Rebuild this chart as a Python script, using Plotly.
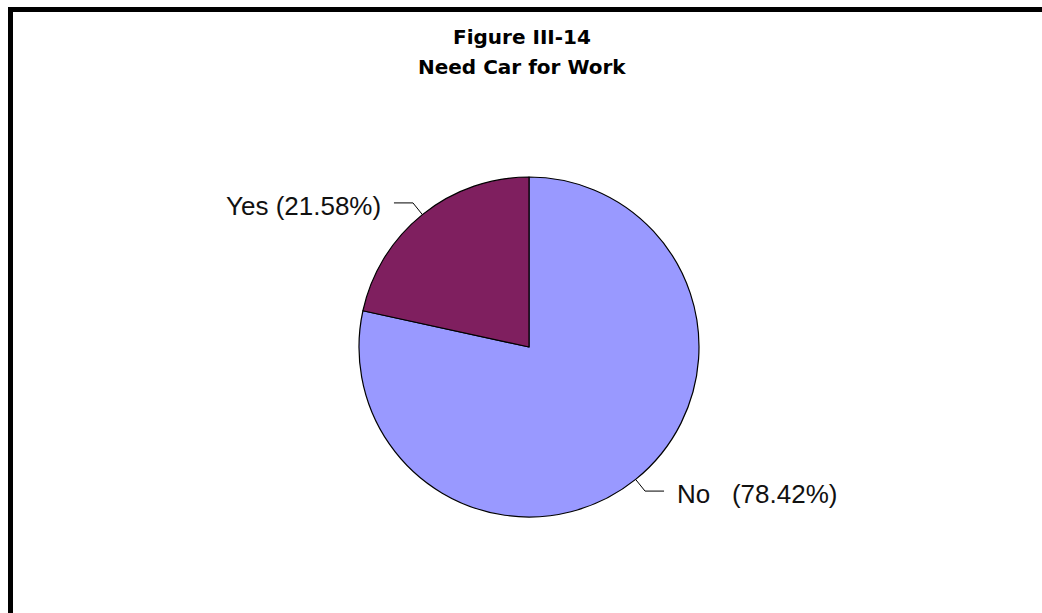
import math
import plotly.graph_objects as go

# Survey answers: does the respondent need a car for work
labels = ["No", "Yes"]
shares = [78.42, 21.58]
slice_colors = ["#9999FF", "#7F1F5F"]
label_texts = ["No\u00a0\u00a0\u00a0(78.42%)", "Yes (21.58%)"]

title_lines = ["Figure III-14", "Need Car for Work"]

W, H = 1042, 613
cx, cy, r = 529, 347, 170  # pie centre and radius in pixels


def px(x):
    return x / W


def py(y):
    return 1 - y / H


fig = go.Figure(
    go.Pie(
        labels=labels,
        values=shares,
        sort=False,
        direction="clockwise",
        rotation=0,
        marker=dict(colors=slice_colors, line=dict(color="black", width=1.2)),
        textinfo="none",
        hoverinfo="label+percent",
        showlegend=False,
        domain=dict(x=[px(cx - r), px(cx + r)], y=[py(cy + r), py(cy - r)]),
    )
)

shapes = []
annotations = []

# leader lines and outside labels, placed from each slice's mid angle
total = sum(shares)
start = 0.0
for val, txt in zip(shares, label_texts):
    frac = val / total
    mid = (start + frac / 2) * 2 * math.pi
    start += frac
    sx, sy = math.sin(mid), -math.cos(mid)
    p0 = (cx + r * sx, cy + r * sy)
    p1 = (cx + (r + 15) * sx, cy + (r + 15) * sy)
    side = 1 if sx >= 0 else -1
    p2 = (p1[0] + side * 19, p1[1])
    for a, b in ((p0, p1), (p1, p2)):
        shapes.append(dict(type="line", xref="paper", yref="paper",
                           x0=px(a[0]), y0=py(a[1]), x1=px(b[0]), y1=py(b[1]),
                           line=dict(color="black", width=1)))
    annotations.append(dict(
        x=px(p2[0] + side * 11), y=py(p2[1] + 3), xref="paper", yref="paper",
        text=txt, showarrow=False,
        xanchor="left" if side > 0 else "right", yanchor="middle",
        font=dict(family="Liberation Sans, Arial, sans-serif", size=26, color="#111111"),
    ))

# two-line bold heading
for i, line in enumerate(title_lines):
    annotations.append(dict(
        x=px(522), y=py(37 + 30 * i), xref="paper", yref="paper",
        text=f"<b>{line}</b>", showarrow=False, xanchor="center", yanchor="middle",
        font=dict(family="DejaVu Sans, sans-serif", size=20, color="black"),
    ))

# heavy frame along the top and left edges
shapes.append(dict(type="rect", xref="paper", yref="paper",
                   x0=px(8), x1=1, y0=py(12), y1=py(7),
                   fillcolor="black", line=dict(width=0)))
shapes.append(dict(type="rect", xref="paper", yref="paper",
                   x0=px(8), x1=px(13), y0=0, y1=py(7),
                   fillcolor="black", line=dict(width=0)))

fig.update_layout(
    width=W, height=H,
    margin=dict(l=0, r=0, t=0, b=0),
    paper_bgcolor="white", plot_bgcolor="white",
    shapes=shapes, annotations=annotations,
)

fig.write_html("out.html")
